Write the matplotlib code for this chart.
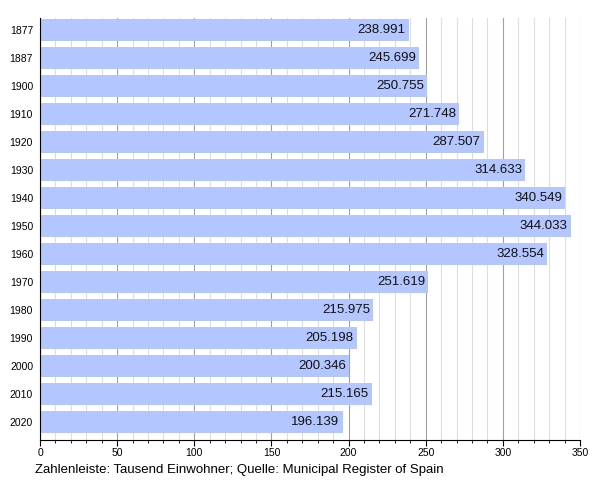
import numpy as np
import matplotlib.pyplot as plt
from matplotlib.ticker import MultipleLocator

plt.rcParams['font.family'] = ['Liberation Sans', 'DejaVu Sans']

years = ['1877', '1887', '1900', '1910', '1920', '1930', '1940', '1950',
         '1960', '1970', '1980', '1990', '2000', '2010', '2020']
population = [238.991, 245.699, 250.755, 271.748, 287.507, 314.633, 340.549,
              344.033, 328.554, 251.619, 215.975, 205.198, 200.346, 215.165,
              196.139]

fig = plt.figure(figsize=(6, 4.8), dpi=100)
ax = fig.add_axes([0.0667, 0.0833, 0.9, 0.8792])

y = np.arange(len(years))
ax.barh(y, population, height=0.78, color='#b3c6ff', zorder=2)

for yi, v in zip(y, population):
    ax.text(v - 2, yi, f'{v:.3f}', ha='right', va='center', fontsize=9.5,
            color='#111111', zorder=3)

ax.set_xlim(0, 350)
ax.set_ylim(len(years) - 0.36, -0.43)
ax.set_yticks(y)
ax.set_yticklabels(years, fontsize=7.5)
ax.xaxis.set_major_locator(MultipleLocator(50))
ax.xaxis.set_minor_locator(MultipleLocator(10))
ax.tick_params(axis='x', labelsize=7.5, length=4, which='major', pad=2)
ax.tick_params(axis='x', length=2.5, which='minor')
ax.tick_params(axis='y', length=0, pad=5)
ax.grid(True, axis='x', which='major', color='#a0a0a0', lw=0.8, zorder=1)
ax.grid(True, axis='x', which='minor', color='#dddddd', lw=0.8, zorder=1)
ax.spines['top'].set_visible(False)
ax.spines['right'].set_visible(False)

fig.text(0.0583, 0.0208, 'Zahlenleiste: Tausend Einwohner; Quelle: Municipal Register of Spain',
         fontsize=9.5, ha='left', va='center')

fig.savefig('out.png')
